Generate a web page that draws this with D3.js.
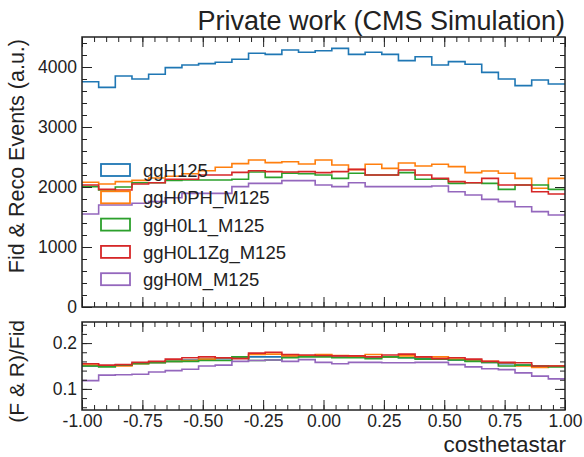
<!DOCTYPE html>
<html>
<head>
<meta charset="utf-8">
<script src="https://cdn.jsdelivr.net/npm/d3@7"></script>
<style>
  body { margin: 0; background: #fff; }
  svg text { font-family: "Liberation Sans", Arial, sans-serif; fill: #222; }
</style>
</head>
<body>
<div id="chart"></div>
<script>
// 29 bins on costhetastar in [-1, 1]
const nBins = 29;
const edges = d3.range(nBins + 1).map(i => -1 + i * 2 / nBins);

const labels = ["ggH125", "ggH0PH_M125", "ggH0L1_M125", "ggH0L1Zg_M125", "ggH0M_M125"];
const colors = ["#1f77b4", "#ff7f0e", "#2ca02c", "#d62728", "#9467bd"];

// Fid & Reco events per bin (a.u.)
const ggH125 = [3755, 3661, 3850, 3800, 3878, 3989, 4033, 4056, 4078, 4128, 4228, 4211, 4283, 4245, 4272,
                4311, 4211, 4245, 4211, 4106, 4172, 4033, 4089, 4045, 3911, 3800, 3689, 3783, 3717];
const ggH0PH = [2080, 2050, 2090, 2110, 2150, 2180, 2220, 2272, 2330, 2390, 2450, 2406, 2422, 2383, 2450,
                2367, 2290, 2378, 2311, 2400, 2350, 2378, 2339, 2239, 2267, 2228, 2144, 1978, 2144];
const ggH0L1 = [2006, 1950, 2000, 2072, 2072, 2110, 2117, 2117, 2117, 2130, 2250, 2160, 2230, 2220, 2200,
                2144, 2228, 2200, 2200, 2239, 2128, 2128, 2061, 2072, 2061, 1961, 2033, 2033, 1961];
const ggH0L1Zg = [2033, 1960, 1950, 2050, 2070, 2128, 2128, 2200, 2200, 2244, 2272, 2256, 2250, 2256, 2240,
                  2256, 2294, 2200, 2200, 2283, 2200, 2144, 2089, 2072, 2144, 2033, 2033, 1922, 1883];
const ggH0M = [1550, 1700, 1700, 1728, 1756, 1820, 1894, 1894, 1894, 2006, 2061, 2061, 2106, 2106, 2033,
               2006, 2072, 2006, 2006, 2006, 2006, 2017, 1922, 1867, 1794, 1756, 1672, 1589, 1533];

// (F & R)/Fid ratio per bin
const rH125 = [0.150, 0.150, 0.152, 0.156, 0.158, 0.160, 0.163, 0.165, 0.166, 0.168, 0.170, 0.170, 0.171, 0.172, 0.172,
               0.172, 0.171, 0.170, 0.169, 0.168, 0.167, 0.165, 0.163, 0.161, 0.158, 0.155, 0.152, 0.150, 0.150];
const rH0PH = [0.152, 0.150, 0.150, 0.155, 0.158, 0.160, 0.162, 0.165, 0.168, 0.167, 0.175, 0.176, 0.172, 0.172, 0.175,
               0.173, 0.170, 0.175, 0.170, 0.172, 0.170, 0.170, 0.165, 0.163, 0.160, 0.157, 0.150, 0.147, 0.150];
const rH0L1 = [0.150, 0.148, 0.152, 0.155, 0.157, 0.160, 0.160, 0.162, 0.162, 0.170, 0.162, 0.163, 0.168, 0.170, 0.170,
               0.168, 0.168, 0.166, 0.170, 0.168, 0.165, 0.165, 0.163, 0.160, 0.158, 0.150, 0.152, 0.150, 0.148];
const rH0L1Zg = [0.155, 0.152, 0.153, 0.158, 0.160, 0.165, 0.168, 0.170, 0.168, 0.166, 0.178, 0.180, 0.175, 0.174, 0.173,
                 0.172, 0.172, 0.170, 0.174, 0.176, 0.170, 0.166, 0.168, 0.165, 0.160, 0.158, 0.157, 0.150, 0.150];
const rH0M = [0.118, 0.130, 0.131, 0.132, 0.137, 0.140, 0.143, 0.150, 0.152, 0.160, 0.162, 0.163, 0.160, 0.164, 0.158,
              0.155, 0.158, 0.158, 0.157, 0.157, 0.158, 0.158, 0.153, 0.148, 0.144, 0.142, 0.135, 0.128, 0.122];

const topSeries = [ggH125, ggH0PH, ggH0L1, ggH0L1Zg, ggH0M];
const ratioSeries = [rH125, rH0PH, rH0L1, rH0L1Zg, rH0M];

const W = 584, H = 457;
const left = 82, right = 565;
const top1 = 37, bot1 = 307, top2 = 322, bot2 = 410;

const svg = d3.select("#chart").append("svg").attr("width", W).attr("height", H);

const x = d3.scaleLinear().domain([-1, 1]).range([left, right]);
const y1 = d3.scaleLinear().domain([0, 4500]).range([bot1, top1]);
const y2 = d3.scaleLinear().domain([0.054, 0.246]).range([bot2, top2]);

function stepLine(y) {
  return d3.line().curve(d3.curveStepAfter).x(d => x(d[0])).y(d => y(d[1]));
}
function pts(vals) {
  const p = vals.map((v, i) => [edges[i], v]);
  p.push([edges[nBins], vals[nBins - 1]]);
  return p;
}

function drawPanel(y, series, yTop, yBot, majors, minors, fmt) {
  const g = svg.append("g");
  g.selectAll("path.h").data(series).enter().append("path")
    .attr("class", "h")
    .attr("d", d => stepLine(y)(pts(d)))
    .attr("fill", "none")
    .attr("stroke", (d, i) => colors[i])
    .attr("stroke-width", 1.6);

  // axes with inward ticks on all four sides
  const xMaj = d3.range(-1, 1.0001, 0.25), xMin = d3.range(-1, 1.0001, 0.05);
  const addAxis = (axis, tx, ty) => {
    const a = svg.append("g").attr("transform", `translate(${tx},${ty})`).call(axis);
    a.select(".domain").remove();
    a.selectAll("line").attr("stroke", "#222").attr("stroke-width", 1);
    return a;
  };
  addAxis(d3.axisBottom(x).tickValues(xMin).tickSize(-5).tickFormat(""), 0, yBot);
  addAxis(d3.axisTop(x).tickValues(xMin).tickSize(-5).tickFormat(""), 0, yTop);
  addAxis(d3.axisTop(x).tickValues(xMaj).tickSize(-10).tickFormat(""), 0, yTop);
  addAxis(d3.axisLeft(y).tickValues(minors).tickSize(-5).tickFormat(""), left, 0);
  addAxis(d3.axisRight(y).tickValues(minors).tickSize(-5).tickFormat(""), right, 0);
  addAxis(d3.axisRight(y).tickValues(majors).tickSize(-10).tickFormat(""), right, 0);
  const la = addAxis(d3.axisLeft(y).tickValues(majors).tickSize(-10).tickPadding(5).tickFormat(fmt), left, 0);
  la.selectAll("text").attr("font-size", 17.5).attr("fill", "#222")
    .style("font-family", '"Liberation Sans", Arial, sans-serif');
  const ba = addAxis(d3.axisBottom(x).tickValues(xMaj).tickSize(-10).tickPadding(5).tickFormat(d3.format(".2f")), 0, yBot);
  ba.selectAll("text").attr("font-size", 17.5).attr("fill", "#222")
    .style("font-family", '"Liberation Sans", Arial, sans-serif')
    .text(d => d3.format(".2f")(d).replace("−", "-"));
  if (yBot !== bot2) ba.selectAll("text").remove();

  svg.append("rect").attr("x", left).attr("y", yTop)
    .attr("width", right - left).attr("height", yBot - yTop)
    .attr("fill", "none").attr("stroke", "#222").attr("stroke-width", 1.5);
}

drawPanel(y1, topSeries, top1, bot1, d3.range(0, 4001, 1000), d3.range(0, 4501, 200), d3.format("d"));
drawPanel(y2, ratioSeries, top2, bot2, [0.1, 0.2], d3.range(0.06, 0.2401, 0.02), d3.format(".1f"));

// legend
const leg = svg.append("g");
labels.forEach((lab, i) => {
  const cy = 170 + i * 27.3;
  leg.append("rect").attr("x", 101).attr("y", cy - 6).attr("width", 29).attr("height", 12)
    .attr("fill", "none").attr("stroke", colors[i]).attr("stroke-width", 1.8);
  leg.append("text").attr("x", 143).attr("y", cy + 7).attr("font-size", 18.5).text(lab);
});

// titles and labels
svg.append("text").attr("x", right).attr("y", 30).attr("text-anchor", "end")
  .attr("font-size", 27).text("Private work (CMS Simulation)");
svg.append("text").attr("transform", `translate(24,${top1 + 2}) rotate(-90)`).attr("text-anchor", "end")
  .attr("font-size", 21.5).text("Fid & Reco Events (a.u.)");
svg.append("text").attr("transform", `translate(24,${top2 - 2}) rotate(-90)`).attr("text-anchor", "end")
  .attr("font-size", 21).text("(F & R)/Fid");
svg.append("text").attr("x", right + 1).attr("y", 452).attr("text-anchor", "end")
  .attr("font-size", 22.5).text("costhetastar");
</script>
</body>
</html>
